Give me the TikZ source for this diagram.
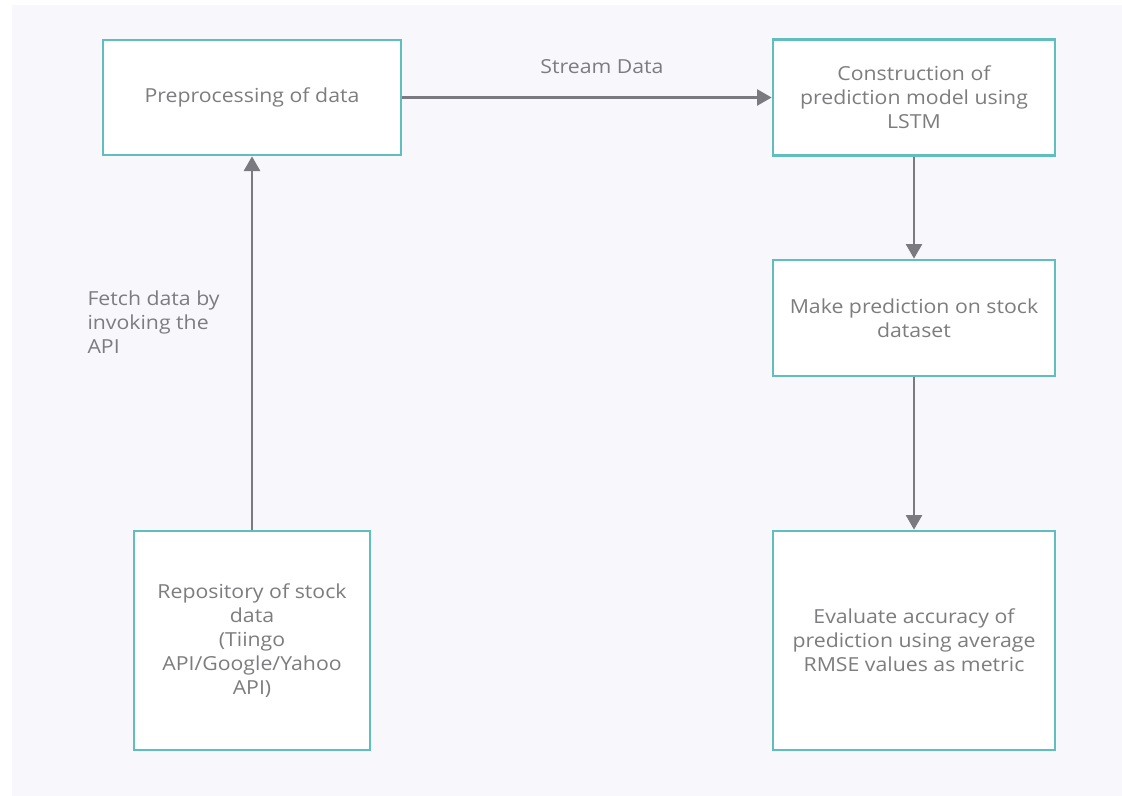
\documentclass[tikz,border=0pt]{standalone}
\usepackage{fontspec}
\setmainfont[FakeStretch=1.1]{Open Sans}
\usetikzlibrary{arrows.meta}

\definecolor{boxline}{RGB}{96,190,190}
\definecolor{flowgray}{RGB}{122,122,128}
\definecolor{textgray}{RGB}{125,125,128}
\definecolor{canvas}{RGB}{248,248,252}

\tikzset{every picture/.style={line width=0.75pt}}
\tikzset{
  stepbox/.style={draw=boxline, fill=white, line width=2pt, align=center, text=textgray,
    font=\fontsize{14.5}{18}\selectfont, inner sep=4pt},
  flow/.style={draw=flowgray, line width=2pt, -{Triangle[length=11pt,width=12pt]}},
  flowlabel/.style={text=textgray, font=\fontsize{14.5}{18}\selectfont, inner sep=0.75pt}
}

\begin{document}
\begin{tikzpicture}[x=0.75pt,y=0.75pt,yscale=-1,xscale=1]
\useasboundingbox (0,0) rectangle (1122,796);
\fill [white] (0,0) rectangle (1122,796);
\fill [canvas] (12,5) rectangle (1122,796);

% Boxes
\node [stepbox, minimum width=223.5pt, minimum height=86.25pt] (prep) at (252,97.5) {Preprocessing of data};
\node [stepbox, minimum width=211.5pt, minimum height=87pt] (model) at (914,97.5) {Construction of\\prediction model using\\LSTM};
\node [stepbox, minimum width=211.5pt, minimum height=87pt] (predict) at (914,318) {Make prediction on stock\\dataset};
\node [stepbox, minimum width=211.5pt, minimum height=164.25pt] (evaluate) at (914,640.5) {Evaluate accuracy of\\prediction using average\\RMSE values as metric};
\node [stepbox, minimum width=177pt, minimum height=164.25pt] (repo) at (252,640.5) {Repository of stock\\data\\(Tiingo\\API/Google/Yahoo\\API)};

% Connectors
\draw [flow] (prep) -- (model);
\draw [flow] (repo) -- (prep);
\draw [flow] (model) -- (predict);
\draw [flow] (predict) -- (evaluate);

% Text Node
\node [flowlabel] (stream) at (602,67) {Stream Data};
% Text Node
\node [flowlabel, anchor=west, align=left] (fetch) at (86,322) {Fetch data by\\invoking the\\API};

\end{tikzpicture}
\end{document}
